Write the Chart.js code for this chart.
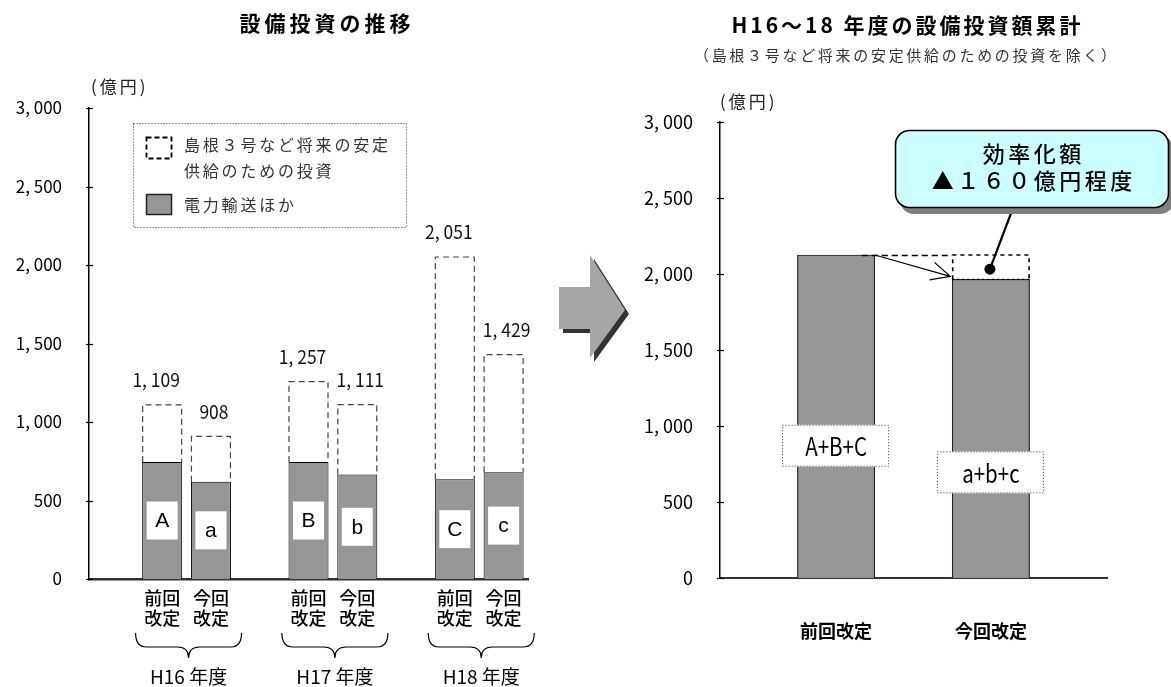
<!DOCTYPE html>
<html lang="ja">
<head>
<meta charset="utf-8">
<title>設備投資の推移</title>
<script src="https://cdn.jsdelivr.net/npm/chart.js@4.4.1/dist/chart.umd.min.js"></script>
<style>
  html, body { margin: 0; padding: 0; background: #fff; }
  #wrap { position: relative; width: 1171px; height: 687px; overflow: hidden; }
  canvas { position: absolute; top: 0; }
  #leftChart { left: 0; }
  #rightChart { left: 640px; }
</style>
</head>
<body>
<div id="wrap">
  <canvas id="leftChart" width="640" height="687"></canvas>
  <canvas id="rightChart" width="531" height="687"></canvas>
</div>
<script>
const JP = '"Noto Sans CJK JP", "Noto Sans", sans-serif';

// data
const years = ['H16 年度', 'H17 年度', 'H18 年度'];
const revisions = [['前回', '改定'], ['今回', '改定']];
const totals = [1109, 908, 1257, 1111, 2051, 1429];
const baseValues = [745, 620, 745, 665, 635, 680];   // 電力輸送ほか
const barLetters = ['A', 'a', 'B', 'b', 'C', 'c'];
const yTickValues = [0, 500, 1000, 1500, 2000, 2500, 3000];
const sumLabels = ['前回改定', '今回改定'];
const sumTexts = ['A+B+C', 'a+b+c'];

const fmt = v => v.toLocaleString('en-US').replace(',', ', ');

// left chart: one empty slot in front of every year, then 前回 / 今回
const leftSlots = [];
const barSlot = [];
years.forEach(() => {
  leftSlots.push('');
  revisions.forEach(r => { barSlot.push(leftSlots.length); leftSlots.push(r); });
});
const toSlots = vals => leftSlots.map((s, i) => {
  const k = barSlot.indexOf(i);
  return k < 0 ? null : vals[k];
});
const baseData = toSlots(baseValues);
const extraData = toSlots(totals.map((t, i) => t - baseValues[i]));

// right chart: sums of the solid parts
const prevSum = baseValues.filter((v, i) => i % 2 === 0).reduce((a, b) => a + b, 0);
const nowSum = baseValues.filter((v, i) => i % 2 === 1).reduce((a, b) => a + b, 0);
const rightSlots = ['', sumLabels[0], '', sumLabels[1], ''];
const sumData = [null, prevSum, null, nowSum, null];
const cutData = [null, null, null, prevSum - nowSum, null];

function text(ctx, str, x, y, font, opts = {}) {
  ctx.save();
  ctx.font = font;
  ctx.fillStyle = opts.color || '#000';
  ctx.textAlign = opts.align || 'center';
  ctx.textBaseline = 'middle';
  const sp = opts.spacing || 0;
  if (sp) {
    ctx.letterSpacing = sp + 'px';
    if (ctx.textAlign === 'center') x += sp / 2;
  }
  if (opts.squeeze) {
    ctx.translate(x, y);
    ctx.scale(opts.squeeze, 1);
    ctx.fillText(str, 0, 0);
  } else {
    ctx.fillText(str, x, y);
  }
  ctx.restore();
}

function yAxis(width, size) {
  return {
    stacked: true,
    min: 0,
    max: 3000,
    afterFit: s => { s.width = width; },
    afterBuildTicks: s => { s.ticks = yTickValues.map(v => ({ value: v })); },
    ticks: { padding: 27, color: '#000', font: { family: JP, size: size }, callback: v => fmt(v) },
    grid: { display: false, drawTicks: false },
    border: { color: '#000', width: 1.5 }
  };
}

function tickCrosses(chart) {
  const { ctx, scales: { y }, chartArea } = chart;
  ctx.save();
  ctx.strokeStyle = '#000';
  ctx.lineWidth = 1.2;
  yTickValues.forEach(v => {
    const py = Math.round(y.getPixelForValue(v)) + 0.5;
    ctx.beginPath();
    ctx.moveTo(chartArea.left - 3, py);
    ctx.lineTo(chartArea.left + 4, py);
    ctx.stroke();
  });
  ctx.restore();
}

function dashedTop(ctx, el, color, dash, lw) {
  const l = el.x - el.width / 2 + 0.5;
  const r = el.x + el.width / 2 - 0.5;
  ctx.save();
  ctx.strokeStyle = color;
  ctx.lineWidth = lw;
  ctx.setLineDash(dash);
  ctx.beginPath();
  ctx.moveTo(l, el.base);
  ctx.lineTo(l, el.y);
  ctx.lineTo(r, el.y);
  ctx.lineTo(r, el.base);
  ctx.stroke();
  ctx.restore();
}

const leftDecor = {
  id: 'leftDecor',
  afterDatasetsDraw(chart) {
    const { ctx, scales: { y } } = chart;
    const solid = chart.getDatasetMeta(0).data;
    const extra = chart.getDatasetMeta(1).data;
    barSlot.forEach((slot, k) => {
      const top = extra[slot];
      dashedTop(ctx, top, '#444', [6, 4], 1.2);
      // letter box in the middle of the solid part
      const el = solid[slot];
      const cy = y.getPixelForValue(baseValues[k] / 2);
      ctx.fillStyle = '#fff';
      ctx.fillRect(el.x - 15.5, cy - 19, 31, 38);
      text(ctx, barLetters[k], el.x, cy + 1, '21px "Liberation Sans", Arial, sans-serif');
      // total above the bar
      text(ctx, fmt(totals[k]), el.x - (k % 2 === 0 ? 6 : -3), top.y - 25, '19px ' + JP, { color: '#111', squeeze: 0.92 });
    });
  },
  afterDraw(chart) {
    const { ctx, chartArea } = chart;
    const solid = chart.getDatasetMeta(0).data;
    tickCrosses(chart);

    text(ctx, '設備投資の推移', 325, 23, 'bold 21px ' + JP, { spacing: 4 });
    text(ctx, '(億円)', 91, 87, '17px ' + JP, { align: 'left', spacing: 3, color: '#222' });

    // legend box
    ctx.save();
    ctx.strokeStyle = '#333';
    ctx.lineWidth = 1;
    ctx.setLineDash([1, 2]);
    ctx.strokeRect(133.5, 123.5, 273, 104);
    ctx.setLineDash([5, 3]);
    ctx.lineWidth = 1.8;
    ctx.strokeStyle = '#000';
    ctx.strokeRect(146.5, 137.5, 25, 21);
    ctx.setLineDash([]);
    ctx.fillStyle = '#969696';
    ctx.fillRect(146, 194, 26, 21);
    ctx.lineWidth = 1.5;
    ctx.strokeStyle = '#222';
    ctx.strokeRect(146.5, 194.5, 25, 20);
    ctx.restore();
    const lf = '16px ' + JP;
    text(ctx, '島根３号など将来の安定', 184, 145, lf, { align: 'left', spacing: 2.8, color: '#333' });
    text(ctx, '供給のための投資', 184, 171, lf, { align: 'left', spacing: 2.8, color: '#333' });
    text(ctx, '電力輸送ほか', 184, 205, lf, { align: 'left', spacing: 2.8, color: '#333' });

    // braces and year labels under each pair
    const b = chartArea.bottom;
    years.forEach((yr, g) => {
      const e0 = solid[barSlot[g * 2]];
      const e1 = solid[barSlot[g * 2 + 1]];
      const xc = (e0.x + e1.x) / 2 + 2;
      const x0 = xc - 53, x1 = xc + 53;
      const y0 = b + 54, ym = b + 68, yt = b + 79, r = 11;
      ctx.save();
      ctx.strokeStyle = '#000';
      ctx.lineWidth = 1.2;
      ctx.beginPath();
      ctx.moveTo(x0, y0);
      ctx.quadraticCurveTo(x0, ym, x0 + r, ym);
      ctx.lineTo(xc - r, ym);
      ctx.quadraticCurveTo(xc, ym, xc, yt);
      ctx.quadraticCurveTo(xc, ym, xc + r, ym);
      ctx.lineTo(x1 - r, ym);
      ctx.quadraticCurveTo(x1, ym, x1, y0);
      ctx.stroke();
      ctx.restore();
      text(ctx, yr, xc, b + 98, '19px ' + JP);
    });

    // block arrow between the two charts
    const pts = [[559, 287], [590, 287], [590, 255], [625, 310], [590, 358], [590, 329], [559, 329]];
    ctx.save();
    [['#333', 4], ['#a6a6a6', 0]].forEach(([c, o]) => {
      ctx.fillStyle = c;
      ctx.beginPath();
      pts.forEach(([px, py], i) => (i ? ctx.lineTo(px + o, py + o) : ctx.moveTo(px + o, py + o)));
      ctx.closePath();
      ctx.fill();
    });
    ctx.restore();
  }
};

new Chart(document.getElementById('leftChart'), {
  type: 'bar',
  data: {
    labels: leftSlots,
    datasets: [
      {
        label: '電力輸送ほか',
        data: baseData,
        backgroundColor: '#969696',
        borderColor: '#000',
        borderWidth: 1,
        barPercentage: 0.82,
        categoryPercentage: 1
      },
      {
        label: '島根３号など将来の安定供給のための投資',
        data: extraData,
        backgroundColor: 'rgba(0,0,0,0)',
        borderWidth: 0,
        barPercentage: 0.82,
        categoryPercentage: 1
      }
    ]
  },
  options: {
    responsive: false,
    animation: false,
    layout: { padding: { top: 108, right: 112, bottom: 0, left: 0 } },
    scales: {
      x: {
        stacked: true,
        afterFit: s => { s.height = 108; },
        ticks: {
          padding: 9, color: '#000', autoSkip: false, maxRotation: 0,
          font: { family: JP, size: 18, weight: '500', lineHeight: 1.12 }
        },
        grid: { display: false, drawTicks: false },
        border: { color: '#333', width: 2.5 }
      },
      y: yAxis(89, 17)
    },
    plugins: { legend: { display: false }, tooltip: { enabled: false } }
  },
  plugins: [leftDecor]
});

const rightDecor = {
  id: 'rightDecor',
  afterDatasetsDraw(chart) {
    const { ctx, scales: { y } } = chart;
    const solid = chart.getDatasetMeta(0).data;
    const cut = chart.getDatasetMeta(1).data;
    const prevEl = solid[1];
    const nowEl = solid[3];
    const cutEl = cut[3];
    const prevTop = y.getPixelForValue(prevSum);
    const nowTop = y.getPixelForValue(nowSum);

    dashedTop(ctx, cutEl, '#000', [4, 4], 1.6);
    ctx.save();
    ctx.strokeStyle = '#000';
    ctx.lineWidth = 1.3;
    ctx.setLineDash([6, 4]);
    ctx.beginPath();
    ctx.moveTo(prevEl.x + prevEl.width / 2 - 13, prevTop + 0.5);
    ctx.lineTo(nowEl.x - nowEl.width / 2, prevTop + 0.5);
    ctx.stroke();
    ctx.setLineDash([2, 3]);
    ctx.beginPath();
    ctx.moveTo(nowEl.x - nowEl.width / 2, nowTop);
    ctx.lineTo(nowEl.x + nowEl.width / 2, nowTop);
    ctx.stroke();

    // thin arrow from the old top to the new one
    ctx.setLineDash([]);
    const sx = prevEl.x + prevEl.width / 2, sy = prevTop;
    const tx = nowEl.x - nowEl.width / 2 - 2, ty = nowTop - 3;
    const ang = Math.atan2(sy - ty, sx - tx);
    ctx.lineWidth = 1.2;
    ctx.beginPath();
    ctx.moveTo(sx, sy);
    ctx.lineTo(tx, ty);
    ctx.moveTo(tx + 21 * Math.cos(ang + 0.45), ty + 21 * Math.sin(ang + 0.45));
    ctx.lineTo(tx, ty);
    ctx.lineTo(tx + 21 * Math.cos(ang - 0.45), ty + 21 * Math.sin(ang - 0.45));
    ctx.stroke();
    ctx.restore();

    // sum labels in dotted boxes
    const labelAt = [870, 695];
    [prevEl, nowEl].forEach((el, i) => {
      const cy = y.getPixelForValue(labelAt[i]);
      ctx.save();
      ctx.fillStyle = '#fff';
      ctx.fillRect(el.x - 54, cy - 21, 107, 42);
      ctx.strokeStyle = '#333';
      ctx.lineWidth = 1;
      ctx.setLineDash([1, 2]);
      ctx.strokeRect(el.x - 53.5, cy - 20.5, 106, 41);
      ctx.restore();
      text(ctx, sumTexts[i], el.x, cy + 1, '25px ' + JP, { squeeze: 0.82 });
    });

    // callout and its pointer
    const dotX = cutEl.x - 1, dotY = (cutEl.y + cutEl.base) / 2 + 2;
    ctx.save();
    ctx.strokeStyle = '#000';
    ctx.lineWidth = 2.2;
    ctx.beginPath();
    ctx.moveTo(373, 208);
    ctx.lineTo(dotX, dotY);
    ctx.stroke();
    ctx.fillStyle = '#000';
    ctx.beginPath();
    ctx.arc(dotX, dotY, 5.5, 0, Math.PI * 2);
    ctx.fill();

    ctx.fillStyle = '#808080';
    ctx.beginPath();
    ctx.roundRect(260, 136, 274, 78, 14);
    ctx.fill();
    ctx.fillStyle = '#ccffff';
    ctx.strokeStyle = '#000';
    ctx.lineWidth = 1.6;
    ctx.beginPath();
    ctx.roundRect(255.5, 130.5, 273, 77, 14);
    ctx.fill();
    ctx.stroke();
    ctx.restore();
    text(ctx, '効率化額', 392, 154, '500 22px ' + JP, { spacing: 3.5 });
    text(ctx, '▲１６０億円程度', 392, 181, '500 22px ' + JP, { spacing: 3.5 });
  },
  afterDraw(chart) {
    const { ctx } = chart;
    tickCrosses(chart);
    text(ctx, 'H16～18 年度の設備投資額累計', 266, 25, 'bold 21px ' + JP, { spacing: 3 });
    text(ctx, '（島根３号など将来の安定供給のための投資を除く）', 265, 55, '15px ' + JP, { spacing: 2.7, color: '#333' });
    text(ctx, '(億円)', 80, 102, '17px ' + JP, { align: 'left', spacing: 3, color: '#222' });
  }
};

new Chart(document.getElementById('rightChart'), {
  type: 'bar',
  data: {
    labels: rightSlots,
    datasets: [
      {
        label: '電力輸送ほか',
        data: sumData,
        backgroundColor: '#969696',
        borderColor: '#222',
        borderWidth: 1.2,
        barPercentage: 1,
        categoryPercentage: 1
      },
      {
        label: '効率化額',
        data: cutData,
        backgroundColor: 'rgba(255,255,255,0)',
        borderWidth: 0,
        barPercentage: 1,
        categoryPercentage: 1
      }
    ]
  },
  options: {
    responsive: false,
    animation: false,
    layout: { padding: { top: 122, right: 64, bottom: 0, left: 0 } },
    scales: {
      x: {
        stacked: true,
        afterFit: s => { s.height = 109; },
        ticks: {
          padding: 42, color: '#000', autoSkip: false, maxRotation: 0,
          font: { family: JP, size: 18, weight: 'bold' }
        },
        grid: { display: false, drawTicks: false },
        border: { color: '#333', width: 2 }
      },
      y: yAxis(80, 18)
    },
    plugins: { legend: { display: false }, tooltip: { enabled: false } }
  },
  plugins: [rightDecor]
});
</script>
</body>
</html>
